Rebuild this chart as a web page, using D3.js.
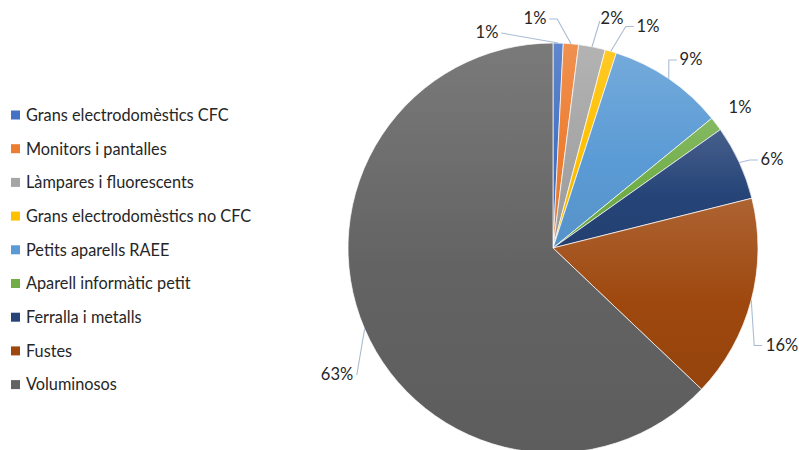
<!DOCTYPE html>
<html>
<head>
<meta charset="utf-8">
<script src="https://cdn.jsdelivr.net/npm/d3@7"></script>
<style>
  body { margin: 0; background: #fff; }
  text { font-family: Lato, "Open Sans", sans-serif; fill: #262626; }
</style>
</head>
<body>
<div id="chart"></div>
<script>
var width = 799;
var height = 450;

// categories and shares (%)
var categories = [
    "Grans electrodomèstics CFC",
    "Monitors i pantalles",
    "Làmpares i fluorescents",
    "Grans electrodomèstics no CFC",
    "Petits aparells RAEE",
    "Aparell informàtic petit",
    "Ferralla i metalls",
    "Fustes",
    "Voluminosos"
];
var shares = [0.8, 1.2, 2.1, 0.9, 9.1, 1.1, 5.9, 16.0, 62.9];
var labels = ["1%", "1%", "2%", "1%", "9%", "1%", "6%", "16%", "63%"];
var colors = ["#4472C4", "#ED7D31", "#A5A5A5", "#FFC000", "#5B9BD5",
              "#70AD47", "#264478", "#9E480E", "#636363"];

// label placement (text centre, baseline) and which side the leader line leaves from
var labelPos = [
    [487, 38, "end"], [535, 24, "end"], [612, 24, "start"],
    [648, 31.5, "start"], [691, 65, "start"], [740, 113, null],
    [772, 165, "start"], [782, 350.5, "start"], [337, 380, "end"]
];

var cx = 553, cy = 248, r = 205;

var svg = d3.select("#chart")
    .append("svg")
    .attr("width", width)
    .attr("height", height);

var defs = svg.append("defs");
colors.forEach(function (c, i) {
    var g = defs.append("linearGradient")
        .attr("id", "grad" + i)
        .attr("x1", 0).attr("y1", 0).attr("x2", 0).attr("y2", 1);
    g.append("stop").attr("offset", "0%").attr("stop-color", d3.interpolateRgb(c, "#fff")(0.15));
    g.append("stop").attr("offset", "55%").attr("stop-color", c);
    g.append("stop").attr("offset", "100%").attr("stop-color", d3.interpolateRgb(c, "#000")(0.06));
});

var pie = d3.pie().sort(null).value(function (d) { return d; });
var arcs = pie(shares);
var arc = d3.arc().innerRadius(0).outerRadius(r);
var edge = d3.arc().innerRadius(r).outerRadius(r);

var g = svg.append("g").attr("transform", "translate(" + cx + "," + cy + ")");

g.selectAll("path.slice")
    .data(arcs)
    .enter()
    .append("path")
    .attr("class", "slice")
    .attr("d", arc)
    .attr("fill", function (d, i) { return "url(#grad" + i + ")"; })
    .attr("stroke", "#fff")
    .attr("stroke-width", 0.7);

// leader lines
arcs.forEach(function (d, i) {
    var p = labelPos[i];
    if (!p[2]) return;
    var a = edge.centroid(d);
    var pt = [a[0] + cx, a[1] + cy];
    var half = labels[i].length * 5.6;
    var tx, ty = p[1] - 5;
    if (p[2] === "end") {
        tx = p[0] + half + 3;
    } else {
        tx = p[0] - half - 3;
    }
    var dir = pt[0] > tx ? 1 : -1;
    var pts = [[tx, ty], [tx + dir * 8, ty], pt];
    if (i === 0 || i === 8) pts = [[tx, ty], pt];
    if (i === 2) pts = [[tx + 2, ty + 2], pt];
    svg.append("polyline")
        .attr("points", pts.map(function (q) { return q.join(","); }).join(" "))
        .attr("fill", "none")
        .attr("stroke", "#a9bcd3")
        .attr("stroke-width", 1.1);
});

svg.selectAll("text.lbl")
    .data(labels)
    .enter()
    .append("text")
    .attr("class", "lbl")
    .attr("x", function (d, i) { return labelPos[i][0]; })
    .attr("y", function (d, i) { return labelPos[i][1]; })
    .attr("text-anchor", "middle")
    .style("font-size", "16.5px")
    .text(function (d) { return d; });

// legend
var legend = svg.selectAll("g.legend")
    .data(categories)
    .enter()
    .append("g")
    .attr("class", "legend")
    .attr("transform", function (d, i) { return "translate(11," + (115 + i * 33.7) + ")"; });

legend.append("rect")
    .attr("x", 0)
    .attr("y", -4.5)
    .attr("width", 9)
    .attr("height", 9)
    .attr("fill", function (d, i) { return colors[i]; });

legend.append("text")
    .attr("x", 15)
    .attr("y", 5.8)
    .style("font-size", "16.3px")
    .text(function (d) { return d; });
</script>
</body>
</html>
